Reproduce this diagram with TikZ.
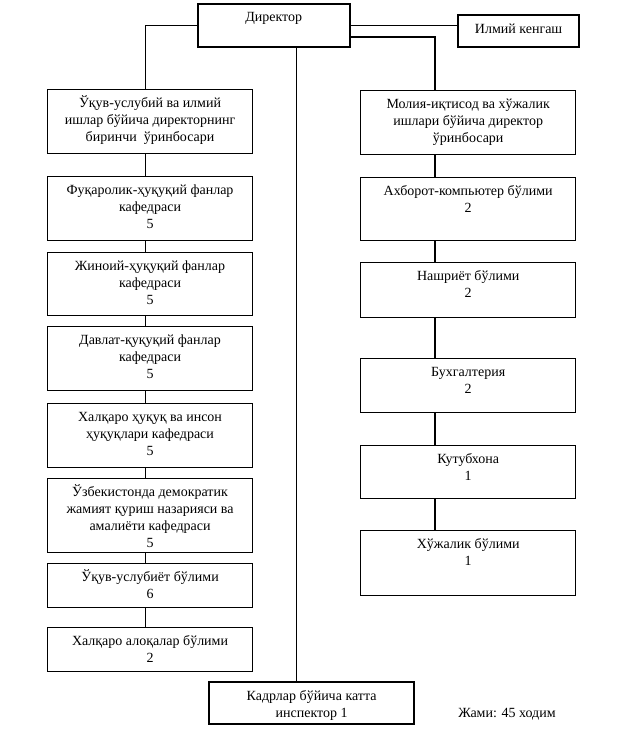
\documentclass[tikz,border=0pt]{standalone}
\usepackage{fontspec}
\setmainfont{Liberation Serif}
\usetikzlibrary{calc}
\newcommand{\orgfont}{\fontsize{14}{17}\selectfont}
\newcommand{\unitbox}[3]{\parbox[t][#2][t]{#1}{\centering\vspace*{6pt}\strut#3}}
\tikzset{unit/.style={draw,line width=1.1pt,inner sep=0pt,anchor=north west,font=\orgfont},heavy/.style={unit,line width=2.2pt},link/.style={line width=.9pt},blink/.style={line width=1.8pt}}

\begin{document}
\begin{tikzpicture}[x=1pt,y=-1pt]
\useasboundingbox (0,0) rectangle (641,740);
\node[unit,line width=1.5pt] (dir) at (197,3) {\unitbox{152pt}{43pt}{Директор}};
\node[heavy] (ilm) at (457,14) {\unitbox{121pt}{32pt}{Илмий кенгаш}};
% left column
\foreach \n/\y/\h/\t in {l1/89/64/{Ўқув-услубий ва илмий\\ишлар бўйича директорнинг\\биринчи\ \ ўринбосари},
l2/176/64/{Фуқаролик-ҳуқуқий фанлар\\кафедраси\\5},
l3/252/63/{Жиноий-ҳуқуқий фанлар\\кафедраси\\5},
l4/326/64/{Давлат-қуқуқий фанлар\\кафедраси\\5},
l5/403/64/{Халқаро ҳуқуқ ва инсон\\ҳуқуқлари кафедраси\\5},
l6/478/74/{Ўзбекистонда демократик\\жамият қуриш назарияси ва\\амалиёти кафедраси\\5},
l7/563/44/{Ўқув-услубиёт бўлими\\6},
l8/627/44/{Халқаро алоқалар бўлими\\2}}
\node[unit] (\n) at (47,\y) {\unitbox{205pt}{\h pt}{\t}};
% right column
\foreach \n/\y/\h/\t in {r1/90/64/{Молия-иқтисод ва хўжалик\\ишлари бўйича директор\\ўринбосари},
r2/177/63/{Ахборот-компьютер бўлими\\2},
r3/262/55/{Нашриёт бўлими\\2},
r4/358/54/{Бухгалтерия\\2},
r5/445/53/{Кутубхона\\1},
r6/530/65/{Хўжалик бўлими\\1}}
\node[unit,line width=1.4pt] (\n) at (360,\y) {\unitbox{215pt}{\h pt}{\t}};
\node[heavy] (kad) at (208,681) {\unitbox{205pt}{42pt}{Кадрлар бўйича катта\\инспектор 1}};
\node[font=\orgfont] (jami) at (507,714) {Жами: 45 ходим};
% connectors
\draw[link] (dir.west) -| ([xshift=98pt]l1.north west);
\foreach \a/\b in {l1/l2,l2/l3,l3/l4,l4/l5,l5/l6,l6/l7,l7/l8}
\draw[link] ([xshift=98pt]\a.south west) -- ([xshift=98pt]\b.north west);
\draw[link] (dir.east) -- (dir.east -| ilm.west);
\draw[blink] ([yshift=-12pt]dir.east) -| ([xshift=75pt]r1.north west);
\foreach \a/\b in {r1/r2,r2/r3,r3/r4,r4/r5,r5/r6}
\draw[blink] ([xshift=75pt]\a.south west) -- ([xshift=75pt]\b.north west);
\draw[link] ([xshift=99pt]dir.south west) -- ([xshift=99pt]dir.south west |- kad.north);
\end{tikzpicture}
\end{document}
